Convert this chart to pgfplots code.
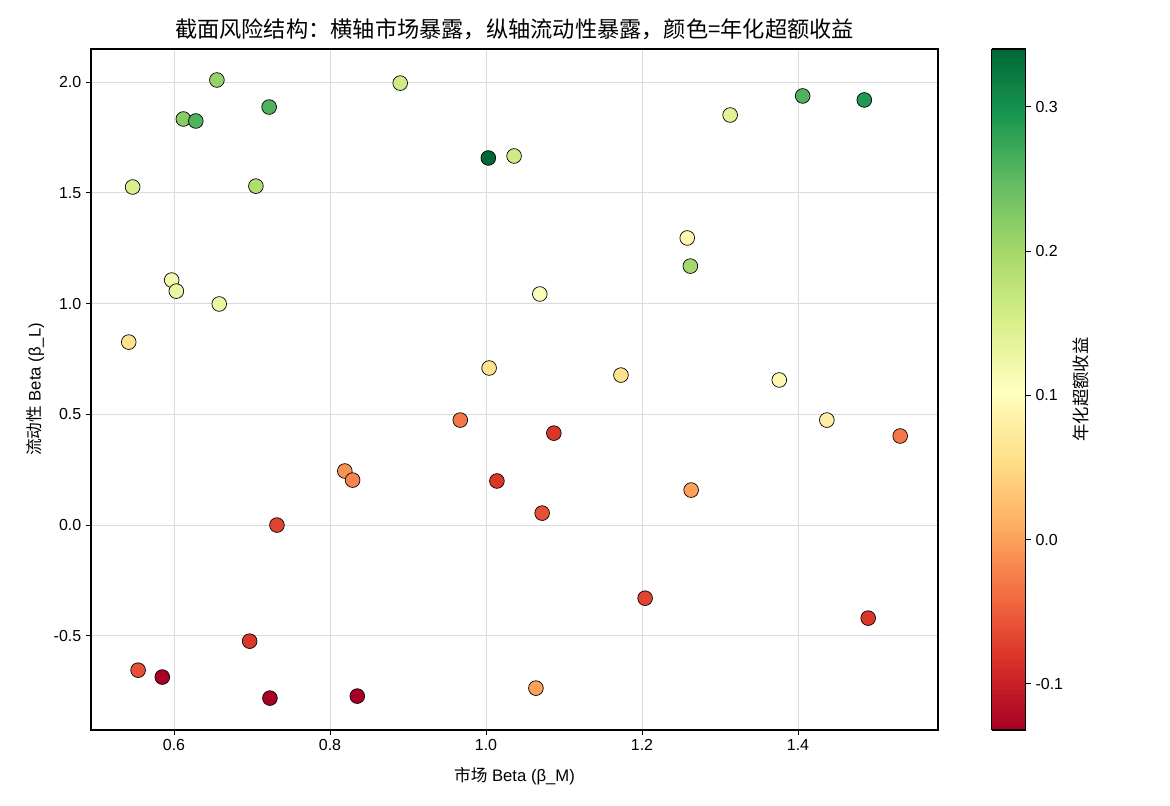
\documentclass[border=0pt]{standalone}
\usepackage{pgfplots}
\pgfplotsset{compat=1.18}
\usepackage{fontspec}
\setmainfont{Liberation Sans}
\newfontfamily\cjk{Noto Sans CJK SC}
\pgfplotstableread{
x y c
0.655 2.009 0.21
0.890 1.995 0.16
0.612 1.833 0.22
0.628 1.824 0.26
0.722 1.887 0.26
1.003 1.657 0.34
1.036 1.666 0.16
1.313 1.851 0.14
1.406 1.937 0.26
1.485 1.919 0.29
0.547 1.526 0.15
0.705 1.530 0.19
1.258 1.296 0.09
1.262 1.169 0.20
0.597 1.106 0.12
0.603 1.056 0.13
0.658 0.998 0.13
1.069 1.043 0.11
0.542 0.826 0.06
1.004 0.709 0.06
1.173 0.677 0.06
1.376 0.655 0.09
1.437 0.474 0.08
0.967 0.474 -0.03
1.087 0.415 -0.08
1.531 0.402 -0.03
0.819 0.244 -0.01
0.829 0.203 -0.02
1.014 0.199 -0.08
1.263 0.158 0.00
1.072 0.054 -0.06
0.732 0.000 -0.07
1.204 -0.330 -0.07
1.490 -0.420 -0.08
0.697 -0.524 -0.08
0.554 -0.655 -0.06
0.585 -0.686 -0.13
0.723 -0.781 -0.13
0.835 -0.772 -0.13
1.064 -0.736 0.00
}\datatable
\begin{document}
\begin{tikzpicture}
\useasboundingbox (-65.52pt,-54.72pt) rectangle (776.88pt,525.6pt);
\begin{axis}[
  at={(0,0)}, anchor=south west,
  scale only axis,
  width=609.84pt, height=490.32pt,
  xmin=0.4936, xmax=1.5795,
  ymin=-0.925, ymax=2.149,
  xtick={0.6,0.8,1.0,1.2,1.4},
  ytick={-0.5,0,0.5,1.0,1.5,2.0},
  xticklabels={0.6,0.8,1.0,1.2,1.4},
  yticklabels={-0.5,0.0,0.5,1.0,1.5,2.0},
  xtick pos=lower, ytick pos=left,
  tick align=outside,
  major tick length=3.5pt,
  tick style={black, line width=0.6pt},
  grid=major,
  grid style={color=black!14, line width=0.5pt},
  axis line style={black, line width=0.8pt},
  ticklabel style={font=\fontsize{11.5}{13}\selectfont},
  xlabel={{\cjk 市场} Beta (β\_M)},
  ylabel={{\cjk 流动性} Beta (β\_L)},
  label style={font=\fontsize{12}{14}\selectfont},
  xlabel style={yshift=-5pt},
  title={\cjk 截面风险结构：横轴市场暴露，纵轴流动性暴露，颜色=年化超额收益},
  title style={font=\fontsize{16}{18}\selectfont, yshift=-3pt},
  colormap={rdylgn}{rgb255=(165,0,38) rgb255=(215,48,39) rgb255=(244,109,67) rgb255=(253,174,97) rgb255=(254,224,139) rgb255=(255,255,191) rgb255=(217,239,139) rgb255=(166,217,106) rgb255=(102,189,99) rgb255=(26,152,80) rgb255=(0,104,55)},
  point meta=explicit,
  point meta min=-0.132, point meta max=0.340,
  colorbar sampled,
  colorbar style={
    samples=150,
    at={(parent axis.north east)}, anchor=north west,
    xshift=30.2pt,
    width=24.48pt,
    ytick={-0.1,0,0.1,0.2,0.3},
    yticklabels={-0.1,0.0,0.1,0.2,0.3},
    ytick pos=right,
    yticklabel pos=right,
    tick align=outside,
    major tick length=3.5pt,
    tick style={black, line width=0.6pt},
    axis line style={black, line width=0.8pt},
    ticklabel style={font=\fontsize{11.5}{13}\selectfont},
    ylabel={\cjk 年化超额收益},
    ylabel style={font=\fontsize{12.5}{14}\selectfont},
  },
]
\addplot[scatter, only marks, mark=*, mark size=5.3pt,
  point meta=explicit,
  scatter/use mapped color={draw=black, fill=mapped color},
  mark options={line width=0.5pt}]
  table[x=x, y=y, meta=c] {\datatable};
\end{axis}
\end{tikzpicture}
\end{document}
